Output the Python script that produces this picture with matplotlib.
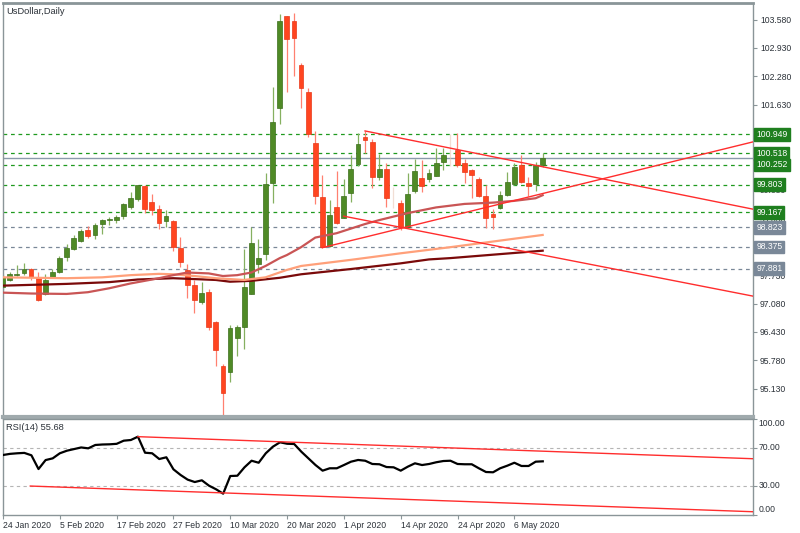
import matplotlib
matplotlib.use('Agg')
import matplotlib.pyplot as plt
import matplotlib.transforms as mtransforms
import numpy as np

plt.rcParams['font.family'] = ['Liberation Sans', 'DejaVu Sans']

# ---- values (bar index 0 = 24 Jan 2020) ----
date_bars = [0, 8, 16, 24, 32, 40, 48, 56, 64, 72]
date_labels = ['24 Jan 2020', '5 Feb 2020', '17 Feb 2020', '27 Feb 2020',
               '10 Mar 2020', '20 Mar 2020', '1 Apr 2020', '14 Apr 2020',
               '24 Apr 2020', '6 May 2020']

opens = [97.46, 97.63, 97.73, 97.79, 97.87, 97.68, 97.31, 97.67, 97.81, 98.15,
         98.32, 98.52, 98.76, 98.65, 98.89, 98.99, 98.99, 99.09, 99.28, 99.47,
         99.78, 99.40, 99.25, 98.97, 98.97, 98.36, 97.85, 97.50, 97.12, 97.34,
         96.65, 95.65, 95.52, 96.29, 96.55, 97.31, 97.98, 98.21, 99.83, 101.56,
         103.66, 103.55, 102.54, 101.93, 100.75, 99.51, 98.40, 99.28, 99.03, 99.60,
         100.27, 100.89, 100.78, 99.97, 100.15, 99.49, 99.37, 98.84, 99.66, 99.95,
         99.93, 100.01, 100.31, 100.45, 100.59, 100.30, 100.14, 99.93, 99.55, 99.13,
         99.26, 99.56, 99.82, 100.25, 99.83, 99.82, 100.25]
highs = [97.75, 97.80, 97.96, 98.00, 97.90, 97.80, 97.76, 97.86, 98.17, 98.44,
         98.66, 98.78, 98.86, 98.93, 99.02, 99.05, 99.11, 99.38, 99.63, 99.80,
         99.79, 99.59, 99.34, 99.22, 99.00, 98.61, 97.99, 97.62, 97.57, 97.41,
         96.68, 95.70, 96.59, 96.59, 98.33, 98.84, 98.55, 100.07, 102.04, 103.70,
         103.66, 103.74, 102.59, 102.01, 101.03, 100.02, 99.45, 100.12, 99.92, 100.48,
         100.98, 101.03, 100.84, 100.50, 100.29, 99.75, 99.45, 100.06, 100.38, 100.37,
         100.17, 100.63, 100.63, 100.95, 100.98, 100.38, 100.17, 99.97, 99.79, 99.24,
         99.66, 100.10, 100.29, 100.48, 99.98, 100.33, 100.52]
lows = [97.40, 97.59, 97.71, 97.73, 97.62, 97.14, 97.28, 97.66, 97.77, 98.06,
        98.30, 98.50, 98.57, 98.56, 98.67, 98.88, 98.93, 99.01, 99.24, 99.43,
        99.15, 99.11, 98.79, 98.84, 98.29, 97.91, 97.20, 96.86, 97.06, 96.47,
        95.65, 94.50, 95.29, 95.88, 96.04, 97.30, 97.77, 98.08, 99.37, 101.20,
        101.91, 102.29, 101.55, 100.90, 99.36, 98.34, 98.38, 98.90, 99.03, 99.41,
        100.23, 100.52, 99.72, 99.91, 99.30, 99.26, 98.76, 98.80, 99.62, 99.64,
        99.87, 100.00, 100.14, 100.22, 100.21, 99.83, 99.49, 99.51, 98.82, 98.78,
        99.24, 99.53, 99.79, 99.83, 99.53, 99.66, 100.21]
closes = [97.69, 97.75, 97.76, 97.87, 97.68, 97.16, 97.63, 97.81, 98.13, 98.36,
          98.59, 98.74, 98.63, 98.87, 98.99, 99.01, 99.07, 99.35, 99.49, 99.80,
          99.24, 99.21, 98.92, 99.08, 98.37, 98.04, 97.50, 97.15, 97.33, 96.55,
          96.02, 95.03, 96.53, 96.54, 97.47, 98.46, 98.12, 99.82, 101.24, 103.55,
          103.13, 103.16, 102.01, 100.95, 99.53, 98.37, 99.11, 98.93, 99.55, 100.16,
          100.73, 100.82, 99.98, 100.17, 99.49, 99.49, 98.84, 99.59, 100.12, 99.77,
          100.06, 100.30, 100.47, 100.45, 100.25, 100.10, 100.02, 99.54, 99.03, 99.07,
          99.56, 99.87, 100.21, 99.87, 99.77, 100.25, 100.41]
faint_bars = [55, 63]

ma_slow_bars = [0, 9, 15, 19, 24, 30, 32, 35, 39, 42, 49, 56, 60, 63, 76]
ma_slow = [97.49, 97.53, 97.57, 97.63, 97.66, 97.62, 97.58, 97.60, 97.67, 97.75,
           97.87, 98.00, 98.09, 98.12, 98.29]
ma_mid_bars = [0, 9, 14, 18, 22, 24, 27, 30, 34, 37, 40, 42, 49, 56, 63, 76]
ma_mid = [97.68, 97.66, 97.68, 97.73, 97.76, 97.75, 97.71, 97.66, 97.62, 97.68,
          97.85, 97.94, 98.08, 98.23, 98.37, 98.65]
ma_fast_bars = [0, 4, 9, 12, 15, 18, 22, 24, 26, 29, 31, 33, 35, 37, 39, 40, 42,
                44, 47, 51, 53, 57, 61, 65, 69, 72, 75, 76]
ma_fast = [97.33, 97.31, 97.30, 97.34, 97.43, 97.54, 97.66, 97.73, 97.79, 97.77,
           97.71, 97.73, 97.79, 97.94, 98.12, 98.19, 98.37, 98.59, 98.69, 98.90,
           98.99, 99.15, 99.28, 99.36, 99.39, 99.43, 99.49, 99.56]

rsi = [62.3, 63.5, 64.1, 64.5, 62.0, 47.6, 57.0, 58.8, 64.1, 66.8,
       68.5, 70.2, 69.3, 72.8, 73.3, 73.5, 74.0, 77.3, 78.0, 81.5,
       64.7, 64.1, 58.1, 59.9, 47.3, 41.4, 36.5, 34.0, 35.8, 30.2,
       26.4, 21.8, 40.3, 40.6, 49.4, 56.3, 54.2, 64.1, 71.0, 75.6,
       74.1, 73.8, 65.8, 58.8, 51.8, 45.9, 48.4, 48.4, 51.8, 55.3,
       57.1, 56.3, 52.9, 52.6, 49.7, 49.4, 45.9, 50.1, 53.6, 51.8,
       52.9, 54.7, 56.0, 56.3, 52.9, 52.6, 52.6, 48.4, 44.5, 44.2,
       48.4, 51.1, 54.2, 50.8, 50.8, 55.3, 55.68]

green_levels = [100.949, 100.518, 100.252, 99.803, 99.167]
grey_levels = [98.823, 98.375, 97.881]
bid = 100.41
# scale labels that stay (at least partly) visible beside the level boxes
price_ticks = [103.58, 102.93, 102.28, 101.63, 99.68, 99.03,
               97.73, 97.08, 96.43, 95.78, 95.13]
rsi_ticks = [100, 70, 30, 0]

# trend lines as (bar, value) anchor pairs
trend_main = [((51, 101.03), (105.6, 99.24)),
              ((45, 98.36), (105.6, 100.78)),
              ((48, 99.08), (105.6, 97.25))]
trend_rsi = [((19, 81.5), (105.6, 58.4)),
             ((3.84, 29.8), (105.6, 2.9))]

# ---- styles ----
BULL, BULL_EDGE, BULL_WICK = '#4f8a26', '#3d6e1c', '#86b060'
BEAR, BEAR_EDGE, BEAR_WICK = '#ff4520', '#e8391a', '#ff8070'
TREND = '#ff2d2d'
GREEN_LVL = '#1f9a1f'
GREEN_BOX = '#1f7f1f'
GREY_LVL = '#7a8898'
FRAME = '#8a9598'
TXT = '#2b3138'
FS = 6.2

fig = plt.figure(figsize=(8, 5.33), dpi=100)
ax = fig.add_axes([3 / 800, 1 - 417 / 533, 750 / 800, 414 / 533])
ax_r = fig.add_axes([3 / 800, 1 - 514.5 / 533, 750 / 800, 95.5 / 533])

x = np.arange(len(opens))
o, h, l, c = (np.array(v) for v in (opens, highs, lows, closes))
up = c >= o
normal = ~np.isin(x, faint_bars)

# horizontal levels
for lv in green_levels:
    ax.axhline(lv, color=GREEN_LVL, lw=0.9, ls=(0, (3, 3)), zorder=1)
for lv in grey_levels:
    ax.axhline(lv, color=GREY_LVL, lw=0.9, ls=(0, (3, 3)), zorder=1)
ax.axhline(bid, color='#8a9aab', lw=1.0, zorder=1)

# candles
for mask, body, edge, wick in [(up & normal, BULL, BULL_EDGE, BULL_WICK),
                               (~up & normal, BEAR, BEAR_EDGE, BEAR_WICK)]:
    ax.vlines(x[mask], l[mask], h[mask], color=wick, lw=0.9, zorder=2)
    ax.bar(x[mask], np.maximum(np.abs(c - o), 0.03)[mask],
           bottom=np.minimum(o, c)[mask], width=0.68, color=body,
           edgecolor=edge, lw=0.5, zorder=3)
fm = ~normal
ax.vlines(x[fm], l[fm], h[fm], color='#e8c8b8', lw=0.9, alpha=0.6, zorder=2)

# moving averages
ax.plot(ma_slow_bars, ma_slow, color='#7a0a0a', lw=1.6, zorder=4)
ax.plot(ma_mid_bars, ma_mid, color='#ffa07a', lw=1.6, zorder=4)
ax.plot(ma_fast_bars, ma_fast, color='#c95555', lw=1.6, zorder=4)

for (x0, y0), (x1, y1) in trend_main:
    ax.plot([x0, x1], [y0, y1], color=TREND, lw=1.0, zorder=5)

ax.set_xlim(0.05, 105.6)
ax.set_ylim(94.484, 103.958)
ax.set_xticks([])
ax.yaxis.tick_right()
ax.set_yticks(price_ticks)
ax.set_yticklabels([f'{t:.3f}' for t in price_ticks])
ax.tick_params(axis='y', direction='out', length=3, width=0.8, pad=2,
               labelsize=FS, colors=FRAME, labelcolor=TXT)

# price boxes over the right scale
tr = mtransforms.blended_transform_factory(ax.transAxes, ax.transData)
for lv in green_levels:
    ax.text(1.0045, lv, f'{lv:.3f}', transform=tr, ha='left', va='center',
            fontsize=FS, color='white', clip_on=False, zorder=10,
            bbox=dict(boxstyle='square,pad=0.22', fc=GREEN_BOX, ec=GREEN_BOX))
for lv in grey_levels:
    ax.text(1.0045, lv, f'{lv:.3f}', transform=tr, ha='left', va='center',
            fontsize=FS, color='white', clip_on=False, zorder=10,
            bbox=dict(boxstyle='square,pad=0.22', fc=GREY_LVL, ec=GREY_LVL))

ax.text(0.004, 0.99, 'UsDollar,Daily', transform=ax.transAxes, ha='left',
        va='top', fontsize=FS + 0.5, color=TXT)

for sp in ax.spines.values():
    sp.set_color(FRAME)
    sp.set_linewidth(1.0)
ax.spines['top'].set_linewidth(2.0)
ax.spines['bottom'].set_linewidth(3.0)
ax.spines['bottom'].set_color('#a0aaad')

# ---- RSI panel ----
ax_r.axhline(70, color='#b5b5b5', lw=0.8, ls=(0, (3, 3)), zorder=1)
ax_r.axhline(30, color='#b5b5b5', lw=0.8, ls=(0, (3, 3)), zorder=1)
ax_r.plot(x, rsi, color='black', lw=1.6, zorder=3)
for (x0, y0), (x1, y1) in trend_rsi:
    ax_r.plot([x0, x1], [y0, y1], color=TREND, lw=1.0, zorder=4)

ax_r.set_xlim(0.05, 105.6)
ax_r.set_ylim(0, 100)
ax_r.yaxis.tick_right()
ax_r.set_yticks(rsi_ticks)
ax_r.set_yticklabels([])
ax_r.tick_params(axis='y', direction='out', length=3, width=0.8, colors=FRAME)
trr = mtransforms.blended_transform_factory(ax_r.transAxes, ax_r.transData)
for t in rsi_ticks:
    va = 'top' if t == 100 else ('bottom' if t == 0 else 'center')
    ax_r.text(1.0075, t, f'{t:.2f}', transform=trr, ha='left', va=va,
              fontsize=FS, color=TXT, clip_on=False)

ax_r.set_xticks(date_bars)
ax_r.set_xticklabels(date_labels, ha='left')
ax_r.tick_params(axis='x', direction='out', length=3, width=0.8, pad=1.5,
                 labelsize=FS, colors=FRAME, labelcolor=TXT)
ax_r.text(0.004, 0.96, f'RSI(14) {rsi[-1]:.2f}', transform=ax_r.transAxes,
          ha='left', va='top', fontsize=FS + 0.5, color=TXT)
for sp in ax_r.spines.values():
    sp.set_color(FRAME)
    sp.set_linewidth(1.0)

fig.savefig('out.png', dpi=100)
